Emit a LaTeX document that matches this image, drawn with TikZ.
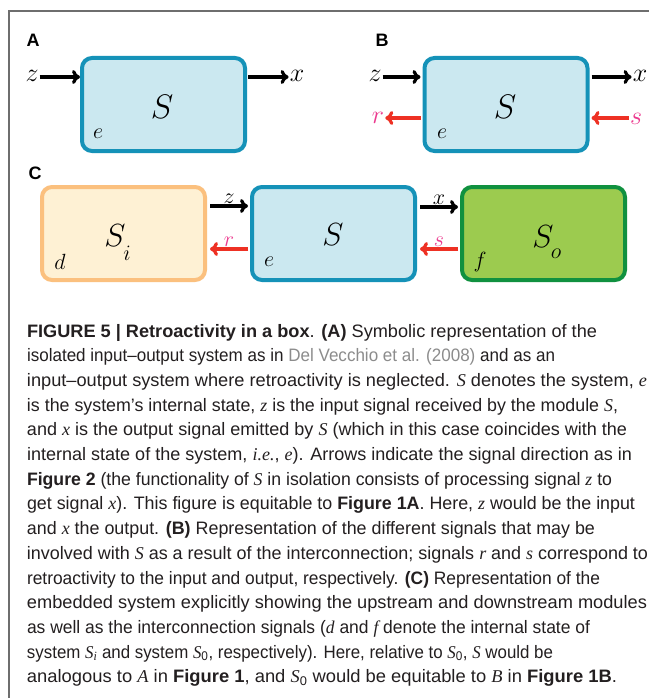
\RequirePackage{fix-cm}
\documentclass[tikz,border=0pt]{standalone}
\usepackage{fontspec}
\setmainfont{Liberation Sans}
\newfontfamily\capserif{Liberation Serif}
\usepackage{graphicx}
\usetikzlibrary{arrows.meta}
\definecolor{bluefill}{HTML}{CBE8F0}
\definecolor{blueline}{HTML}{1592B8}
\definecolor{orfill}{HTML}{FEF1D4}
\definecolor{orline}{HTML}{FBC07E}
\definecolor{grfill}{HTML}{9CCB4F}
\definecolor{grline}{HTML}{10913F}
\definecolor{arrred}{HTML}{EE3124}
\definecolor{labpink}{HTML}{EC3A8F}
\definecolor{captext}{HTML}{231F20}
\definecolor{citegray}{HTML}{8C8C8C}
\definecolor{framegray}{HTML}{6E6E6E}
\newcommand\cv[1]{{\capserif\itshape #1}}
\newsavebox\capbox
\newcommand\capfont{\fontsize{18}{24}\selectfont\color{captext}}
\newcommand\capline[4]{%
  \node[capnode] (#1) at (27,#2) {\sbox\capbox{\capfont #4}%
    \pgfmathsetmacro\capratio{(#3-27)/\wd\capbox}%
    \scalebox{\capratio}[1]{\usebox\capbox}};}
\begin{document}
\begin{tikzpicture}[x=1pt,y=-1pt,
  capnode/.style={anchor=base west,inner sep=0pt,outer sep=0pt},
  sysbox/.style={rectangle,rounded corners=10pt,line width=4pt,minimum width=163pt,minimum height=93pt,inner sep=0pt},
  bluebox/.style={sysbox,draw=blueline,fill=bluefill},
  orbox/.style={sysbox,draw=orline,fill=orfill},
  grbox/.style={sysbox,draw=grline,fill=grfill},
  panel/.style={font=\fontsize{18}{20}\selectfont\bfseries,inner sep=0pt},
  bigS/.style={font=\fontsize{34}{36}\selectfont,inner sep=0pt},
  midS/.style={font=\fontsize{32}{34}\selectfont,inner sep=0pt},
  sig/.style={font=\fontsize{26}{28}\selectfont,inner sep=1pt},
  sigc/.style={font=\fontsize{22}{24}\selectfont,inner sep=1pt},
  state/.style={font=\fontsize{22}{24}\selectfont,inner sep=0pt},
  blackarr/.style={line width=3.2pt,-{Computer Modern Rightarrow[length=8pt,width=14pt]}},
  redarr/.style={line width=3.2pt,draw=arrred,-{Computer Modern Rightarrow[length=8pt,width=14pt]}},
  pinklab/.style={text=labpink}]
\useasboundingbox (0,0) rectangle (649,698);
\fill[white] (0,0) rectangle (649,698);
% frame
\draw[framegray,line width=1.3pt] (9,698) -- (9,11) -- (649,11);
% panel labels
\node[panel] (lA) at (33,40) {A};
\node[panel] (lB) at (382,40) {B};
\node[panel] (lC) at (35,173) {C};
% panel A
\node[bluebox] (bA) at (163.5,104.5) {};
\node[bigS] (SA) at (162,107) {$S$};
\node[state] (eA) at (98,134) {$e$};
\node[sig] (zA) at (32,76) {$z$};
\node[sig] (xA) at (297,76) {$x$};
\draw[blackarr] (zA.east |- 0,77) -- (bA.west |- 0,77);
\draw[blackarr] ([xshift=1pt]bA.east |- 0,77) -- (xA.west |- 0,77);
% panel B
\node[bluebox] (bB) at (506,104.5) {};
\node[bigS] (SB) at (505,107) {$S$};
\node[state] (eB) at (442,134) {$e$};
\node[sig] (zB) at (375,76) {$z$};
\node[sig] (xB) at (640,76) {$x$};
\node[sig,pinklab] (rB) at (378,118) {$r$};
\node[sig,pinklab] (sB) at (636,119) {$s$};
\draw[blackarr] (zB.east |- 0,77) -- ([xshift=-2pt]bB.west |- 0,77);
\draw[blackarr] ([xshift=2pt]bB.east |- 0,77) -- (xB.west |- 0,77);
\draw[redarr] ([xshift=-2pt]bB.west |- 0,118) -- (rB.east |- 0,118);
\draw[redarr] (sB.west |- 0,118) -- ([xshift=2pt]bB.east |- 0,118);
% panel C
\node[orbox] (bSi) at (123.5,233.5) {};
\node[bluebox] (bS) at (333.5,233.5) {};
\node[grbox] (bSo) at (543.5,233.5) {};
\node[midS] (Si) at (115,236) {$S$};
\node[state] (iSub) at (127,253) {$i$};
\node[midS] (SC) at (333,235) {$S$};
\node[midS] (So) at (543,237) {$S$};
\node[state] (oSub) at (556,254) {$o$};
\node[state] (dC) at (60,262) {$d$};
\node[state] (eC) at (269,262) {$e$};
\node[state] (fC) at (480,262) {$f$};
\draw[blackarr] ([xshift=3pt]bSi.east |- 0,206) -- ([xshift=-2pt]bS.west |- 0,206) node[midway,sigc,above=0pt] (zC) {$z$};
\draw[redarr] ([xshift=-2pt]bS.west |- 0,249) -- ([xshift=3pt]bSi.east |- 0,249) node[midway,sigc,pinklab,above=0pt] (rC) {$r$};
\draw[blackarr] ([xshift=3pt]bS.east |- 0,207) -- ([xshift=-2pt]bSo.west |- 0,207) node[midway,sigc,above=0pt] (xC) {$x$};
\draw[redarr] ([xshift=-2pt]bSo.west |- 0,249) -- ([xshift=3pt]bS.east |- 0,249) node[midway,sigc,pinklab,above=0pt] (sC) {$s$};
% caption
\capline{c1}{337}{597}{\textbf{FIGURE 5 | Retroactivity in a box}. \textbf{(A)} Symbolic representation of the}
\capline{c2}{361.7}{555}{isolated input–output system as in {\color{citegray}Del Vecchio et al. (2008)} and as an}
\capline{c3}{386.4}{647}{input–output system where retroactivity is neglected. \cv{S} denotes the system, \cv{e}}
\capline{c4}{411.1}{618}{is the system’s internal state, \cv{z} is the input signal received by the module \cv{S},}
\capline{c5}{435.8}{627}{and \cv{x} is the output signal emitted by \cv{S} (which in this case coincides with the}
\capline{c6}{460.5}{632}{internal state of the system, \cv{i.e.}, \cv{e}). Arrows indicate the signal direction as in}
\capline{c7}{485.2}{612}{\textbf{Figure 2} (the functionality of \cv{S} in isolation consists of processing signal \cv{z} to}
\capline{c8}{509.9}{635}{get signal \cv{x}). This figure is equitable to \textbf{Figure 1A}. Here, \cv{z} would be the input}
\capline{c9}{534.6}{595}{and \cv{x} the output. \textbf{(B)} Representation of the different signals that may be}
\capline{c10}{559.3}{648}{involved with \cv{S} as a result of the interconnection; signals \cv{r} and \cv{s} correspond to}
\capline{c11}{584}{600}{retroactivity to the input and output, respectively. \textbf{(C)} Representation of the}
\capline{c12}{608.7}{647}{embedded system explicitly showing the upstream and downstream modules}
\capline{c13}{633.4}{590}{as well as the interconnection signals (\cv{d} and \cv{f} denote the internal state of}
\capline{c14}{658.1}{553}{system \cv{S\textsubscript{i}} and system \cv{S}\textsubscript{0}, respectively). Here, relative to \cv{S}\textsubscript{0}, \cv{S} would be}
\capline{c15}{682.8}{617}{analogous to \cv{A} in \textbf{Figure 1}, and \cv{S}\textsubscript{0} would be equitable to \cv{B} in \textbf{Figure 1B}.}
\end{tikzpicture}
\end{document}
